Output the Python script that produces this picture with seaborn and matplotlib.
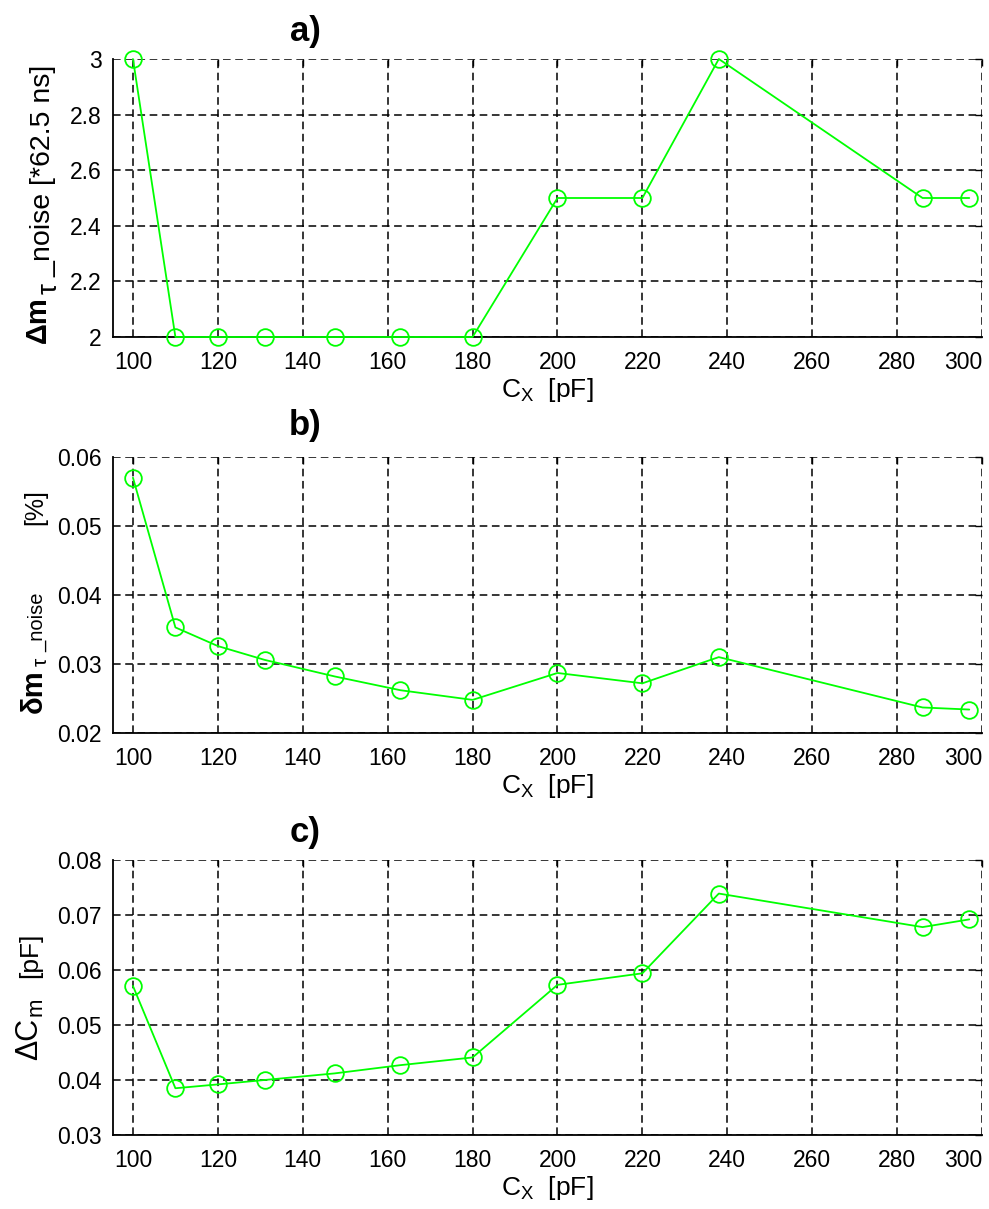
import matplotlib
matplotlib.use('Agg')
import matplotlib.pyplot as plt
import seaborn as sns
from matplotlib.ticker import FormatStrFormatter

# capacitance values (pF), shared by the three panels
cx_pf = [100, 110, 120, 131, 147.5, 163, 180, 200, 220, 238, 286, 297]
# a) noise spread in counts of 62.5 ns
dm_noise = [3, 2, 2, 2, 2, 2, 2, 2.5, 2.5, 3, 2.5, 2.5]
# b) relative noise spread in %
rel_noise = [0.0570, 0.0353, 0.0326, 0.0306, 0.0282, 0.0262, 0.0248, 0.0287, 0.0272, 0.0310, 0.0237, 0.0234]
# c) capacitance error in pF
dc_m = [0.0571, 0.0385, 0.0392, 0.0400, 0.0412, 0.0427, 0.0441, 0.0573, 0.0594, 0.0739, 0.0678, 0.0692]

x_ticks = [100, 120, 140, 160, 180, 200, 220, 240, 260, 280, 300]
panels = [
    ('a)', dm_noise, (2, 3), [2, 2.2, 2.4, 2.6, 2.8, 3]),
    ('b)', rel_noise, (0.02, 0.06), [0.02, 0.03, 0.04, 0.05, 0.06]),
    ('c)', dc_m, (0.03, 0.08), [0.03, 0.04, 0.05, 0.06, 0.07, 0.08]),
]

sns.set_theme(style='white')
plt.rcParams['font.family'] = ['Liberation Sans', 'DejaVu Sans']
plt.rcParams['text.color'] = 'black'
plt.rcParams['axes.labelcolor'] = 'black'
plt.rcParams['mathtext.fontset'] = 'custom'
plt.rcParams['mathtext.rm'] = 'Liberation Sans'
plt.rcParams['mathtext.it'] = 'Liberation Sans'
plt.rcParams['mathtext.bf'] = 'Liberation Sans:bold'

W, H = 989, 1209
fig = plt.figure(figsize=(W / 100, H / 100), dpi=100)
fig.patch.set_facecolor('white')

# axes boxes in pixels: (top, bottom)
boxes = [(59, 337), (457, 733), (860, 1135)]
title_pad = [13, 16, 13]
GREEN = '#00ff00'


def put(x_px, y_px, s, size, weight='normal'):
    # rotated label piece, starting at (x_px, y_px) and running upwards
    fig.text(x_px / W, 1 - y_px / H, s, rotation=90, rotation_mode='anchor',
             ha='left', va='baseline', fontsize=size, fontweight=weight, color='black')


axes = []
for (title, vals, ylim, yticks), (top, bot), tp in zip(panels, boxes, title_pad):
    ax = fig.add_axes([113 / W, 1 - bot / H, 869 / W, (bot - top) / H])
    sns.lineplot(x=cx_pf, y=vals, ax=ax, color=GREEN, linewidth=1.3, marker='o',
                 markersize=12, markerfacecolor='none', markeredgecolor=GREEN,
                 markeredgewidth=1.3, clip_on=False, zorder=5)
    ax.set_xlim(95.3, 300)
    ax.set_ylim(*ylim)
    ax.set_xticks(x_ticks)
    ax.set_yticks(yticks)
    ax.yaxis.set_major_formatter(FormatStrFormatter('%g'))
    ax.grid(True, color='black', linestyle=(0, (5, 3)), linewidth=1.1)
    ax.set_axisbelow(True)
    for side in ('top', 'right'):
        ax.spines[side].set_visible(False)
    for side in ('left', 'bottom'):
        ax.spines[side].set_color('black')
        ax.spines[side].set_linewidth(1.3)
    ax.tick_params(direction='in', length=5, width=1, colors='black', labelsize=16.5,
                   top=True, right=True)
    ax.tick_params(axis='x', pad=10)
    ax.tick_params(axis='y', pad=8)
    ax.get_xticklabels()[-1].set_ha('right')
    ax.set_title(title, x=0.221, pad=tp, fontsize=25, fontweight='bold', color='black')
    ax.set_xlabel(r'C$_{\mathrm{X}}$  [pF]', fontsize=19, color='black')
    ax.xaxis.set_label_coords(0.5, -60 / (bot - top))
    ax.xaxis.label.set_va('baseline')
    axes.append(ax)

# y labels built from pieces (mixed sizes as in the original)
put(46, 343, 'Δm', 21, 'bold')
put(57, 294, 'τ', 20)
put(50, 277, '_noise [*62.5 ns]', 20.5)

put(42, 713, 'δm', 21, 'bold')
put(47, 666, 'τ', 15)
put(43, 652, '_noise', 14.5)
put(42, 525, '[%]', 18)

put(37, 1060, 'ΔC', 22)
put(42, 1016, 'm', 16)
put(37, 978, '[pF]', 19)

fig.savefig('out.png', dpi=100)
